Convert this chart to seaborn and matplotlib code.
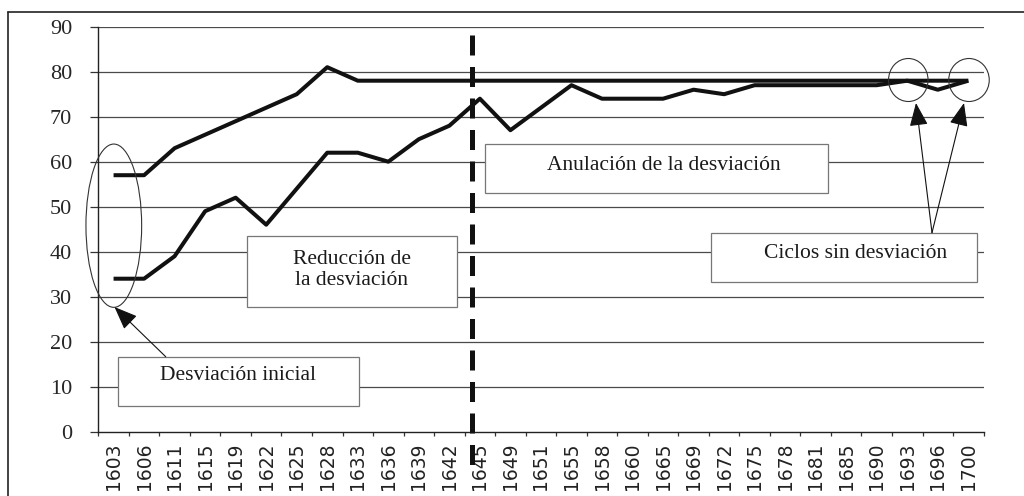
import numpy as np
import pandas as pd
import matplotlib
matplotlib.use("Agg")
import matplotlib.pyplot as plt
from matplotlib.patches import Rectangle, Ellipse
from matplotlib.lines import Line2D
import seaborn as sns

# ---- data ----
years = ['1603', '1606', '1611', '1615', '1619', '1622', '1625', '1628', '1633', '1636',
         '1639', '1642', '1645', '1649', '1651', '1655', '1658', '1660', '1665', '1669',
         '1672', '1675', '1678', '1681', '1685', '1690', '1693', '1696', '1700']
serie_superior = [57, 57, 63, 66, 69, 72, 75, 81, 78, 78,
                  78, 78, 78, 78, 78, 78, 78, 78, 78, 78,
                  78, 78, 78, 78, 78, 78, 78, 78, 78]
serie_inferior = [34, 34, 39, 49, 52, 46, 54, 62, 62, 60,
                  65, 68, 74, 67, 72, 77, 74, 74, 74, 76,
                  75, 77, 77, 77, 77, 77, 78, 76, 78]
y_ticks = [0, 10, 20, 30, 40, 50, 60, 70, 80, 90]

etiqueta_inicial = "Desviación inicial"
etiqueta_reduccion = "Reducción de\nla desviación"
etiqueta_anulacion = "Anulación de la desviación"
etiqueta_ciclos = "Ciclos sin desviación"

df = pd.DataFrame({
    "year": years * 2,
    "value": serie_superior + serie_inferior,
    "serie": ["sup"] * len(years) + ["inf"] * len(years),
})

sns.set_style("white")
plt.rcParams["font.family"] = ["Liberation Serif", "DejaVu Serif"]

W, H = 1024, 496
fig = plt.figure(figsize=(W / 100, H / 100), dpi=100)
ax_left, ax_right, ax_top, ax_bot = 98.3, 983.6, 26.7, 431.7
ax = fig.add_axes([ax_left / W, 1 - ax_bot / H, (ax_right - ax_left) / W, (ax_bot - ax_top) / H])

sns.lineplot(data=df, x="year", y="value", hue="serie", palette=["#111111", "#111111"],
             legend=False, lw=2.9, sort=False, ax=ax, zorder=5,
             solid_joinstyle="round", solid_capstyle="butt")

ax.set_xlim(-0.5, len(years) - 0.5)
ax.set_ylim(0, 90)
ax.set_xlabel("")
ax.set_ylabel("")

# grid
for yv in y_ticks[1:]:
    ax.axhline(yv, color="#4a4a4a", lw=0.9, zorder=1)

for s in ["top", "right"]:
    ax.spines[s].set_visible(False)
for s in ["left", "bottom"]:
    ax.spines[s].set_color("#222222")
    ax.spines[s].set_linewidth(1.0)

ax.set_yticks(y_ticks)
ax.set_yticklabels([str(v) for v in y_ticks], fontsize=16, family=["Liberation Serif"])
ax.tick_params(axis="y", direction="out", length=5.8, width=0.9, color="#333333", pad=13, left=True)

ax.set_xticks(range(len(years)))
ax.set_xticklabels(years, rotation=90, fontsize=13.5,
                   family=["Liberation Sans Narrow", "DejaVu Sans"], color="#222222")
ax.tick_params(axis="x", length=0, pad=7.5)
ax.set_xticks(np.arange(-0.5, len(years), 1.0), minor=True)
ax.tick_params(axis="x", which="minor", direction="out", length=3, width=0.9, color="#333333", bottom=True)

# helpers in figure pixels (top-left origin)
def fx(x):
    return x / W

def fy(y):
    return 1 - y / H

tr = fig.transFigure

# vertical dashed line (x position between 1642 and 1645)
x_dash = 11.74
dash = Line2D([x_dash, x_dash], [88.2, -8.5], color="#111111", lw=3.6, dashes=(4, 2.3),
              dash_capstyle="butt", zorder=6, clip_on=False)
ax.add_line(dash)

def box(x0, y0, x1, y1, text, tx, ty, fs=15.5):
    r = Rectangle((fx(x0), fy(y1)), fx(x1) - fx(x0), fy(y0) - fy(y1), transform=tr,
                  facecolor="white", edgecolor="#777777", lw=0.9, zorder=3, clip_on=False)
    ax.add_patch(r)
    ax.text(fx(tx), fy(ty), text, transform=tr, ha="center", va="center", fontsize=fs,
            color="#1a1a1a", zorder=7, linespacing=1.15, family=["Liberation Serif"])

box(118.3, 357.3, 359.3, 406.0, etiqueta_inicial, 238.5, 376)
box(246.7, 236.0, 456.7, 306.7, etiqueta_reduccion, 351.7, 270)
box(485.0, 144.3, 827.5, 193.3, etiqueta_anulacion, 664, 166)
box(711.0, 232.7, 976.6, 282.3, etiqueta_ciclos, 855.7, 254)

# ellipses
def ell(cx, cy, w, h):
    e = Ellipse((fx(cx), fy(cy)), w / W, h / H, transform=tr, facecolor="none",
                edgecolor="#333333", lw=0.8, zorder=6, clip_on=False)
    ax.add_patch(e)

ell(113.8, 225.7, 55.7, 163.3)
ell(908.3, 80.0, 39.5, 43.0)
ell(969.0, 80.0, 40.5, 43.0)

# arrows
def arrow(x0, y0, x1, y1):
    ax.annotate("", xy=(fx(x1), fy(y1)), xytext=(fx(x0), fy(y0)),
                xycoords="figure fraction", textcoords="figure fraction",
                arrowprops=dict(arrowstyle="-|>,head_length=0.8,head_width=0.32",
                                mutation_scale=18, lw=0.8, color="#111111",
                                shrinkA=0, shrinkB=0), zorder=8)

arrow(165.7, 356.7, 114.5, 307.0)
arrow(932.0, 232.7, 916.0, 103.0)
arrow(932.0, 232.7, 964.0, 103.0)

# outer frame (left and top edges)
fig.add_artist(Line2D([fx(8), fx(8)], [fy(12), 0], transform=tr, color="#222222", lw=1.2))
fig.add_artist(Line2D([fx(8), 1], [fy(12), fy(12)], transform=tr, color="#222222", lw=1.2))

fig.savefig("out.png", dpi=100)
